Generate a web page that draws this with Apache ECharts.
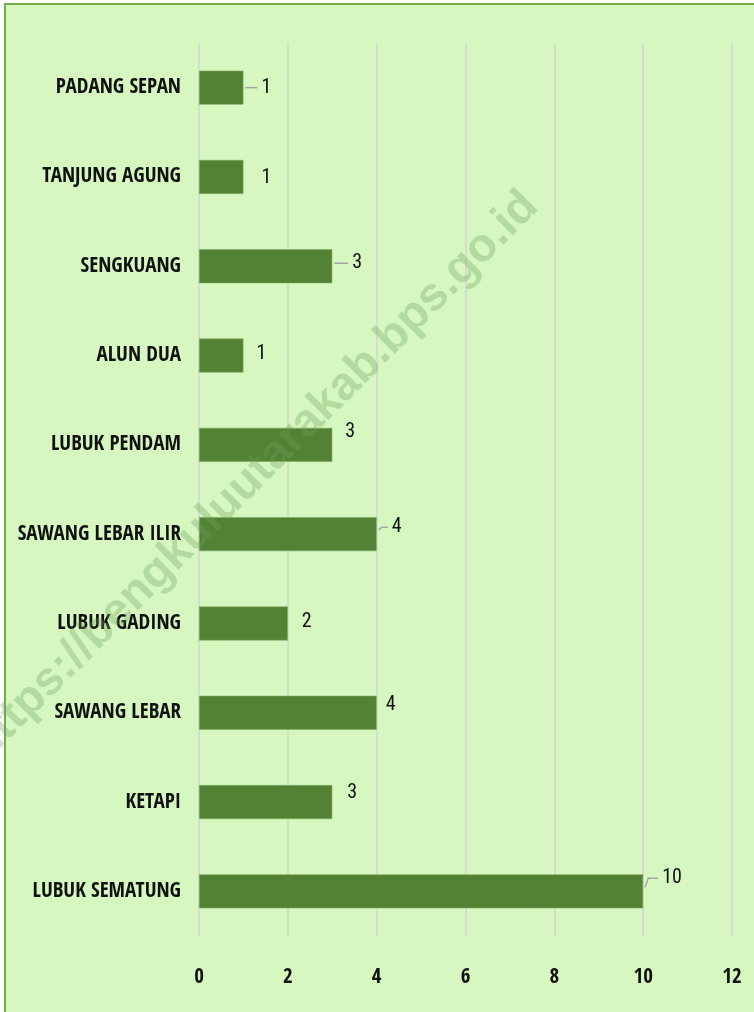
<!DOCTYPE html>
<html>
<head>
<meta charset="utf-8">
<script src="https://cdn.jsdelivr.net/npm/echarts@6/dist/echarts.min.js"></script>
<style>
html,body{margin:0;padding:0;background:#ffffff;}
#chart{width:754px;height:1012px;}
</style>
</head>
<body>
<div id="chart"></div>
<script>
// Data (top to bottom as shown in the reference)
var categories = ["PADANG SEPAN","TANJUNG AGUNG","SENGKUANG","ALUN DUA","LUBUK PENDAM","SAWANG LEBAR ILIR","LUBUK GADING","SAWANG LEBAR","KETAPI","LUBUK SEMATUNG"];
var values = [1,1,3,1,3,4,2,4,3,10];
var xTicks = [0,2,4,6,8,10,12];
var watermark = "https://bengkuluutarakab.bps.go.id";

// label nudges (styling only): [dx, dy, leader line]
var labelNudge = [[13,0,true],[13,1,false],[15,-3,true],[8,-2,false],[8,-13,false],[10,-7,true],[9,-1,false],[4,-8,false],[10,-9,false],[14,-13,true]];

var cats = categories.slice().reverse();
var vals = values.slice().reverse();
var nudges = labelNudge.slice().reverse();

var CAT_FONT = '"Open Sans Condensed","Roboto Condensed",sans-serif';
var NUM_FONT = '"Roboto Condensed","Open Sans Condensed",sans-serif';

function render(){
var chart = echarts.init(document.getElementById('chart'), null, {renderer:'canvas'});
var baseGraphic = [
  {type:'rect', shape:{x:5,y:4,width:800,height:1100}, style:{fill:'#d6f8c0', stroke:'#70ad47', lineWidth:2}, z:-10},
  {type:'text', x:254, y:476, rotation:Math.PI/4, z:5, silent:true,
   style:{text: watermark, font:'bold 47px "Liberation Sans",Arial,sans-serif', fill:'rgba(110,160,90,0.32)', textAlign:'center', textVerticalAlign:'middle'}}
];
var option = {
  backgroundColor: '#ffffff',
  animation: false,
  graphic: baseGraphic,
  grid: {left:199, right:22, top:43, bottom:76, containLabel:false, outerBoundsMode:'none'},
  xAxis: {
    type:'value', min:0, max:12, interval:2,
    axisLine:{show:false}, axisTick:{show:false},
    splitLine:{show:true, lineStyle:{color:'#d4d4d4', width:1.5}},
    axisLabel:{margin:31, color:'#111', fontFamily:CAT_FONT, fontWeight:'bold', fontSize:21,
      formatter:function(v){ return xTicks.indexOf(v)>=0 ? String(v) : ''; }}
  },
  yAxis: {
    type:'category', data:cats,
    axisLine:{show:false}, axisTick:{show:false},
    axisLabel:{margin:18, color:'#111', fontFamily:CAT_FONT, fontWeight:'bold', fontSize:21, verticalAlign:'middle', padding:[0,0,6,0]}
  },
  series: [{
    type:'bar', barWidth:34,
    data: vals.map(function(v,i){
      return {value:v, label:{offset:[nudges[i][0], nudges[i][1]]}};
    }),
    itemStyle:{color:'#548235', borderColor:'#7fa862', borderWidth:0.6},
    label:{show:true, position:'right', distance:5, color:'#111', fontFamily:NUM_FONT, fontSize:20}
  }]
};
chart.setOption(option);

var extra = [];
vals.forEach(function(v,i){
  if(!nudges[i][2]) return;
  var p = chart.convertToPixel({xAxisIndex:0,yAxisIndex:0},[v,cats[i]]);
  var x0 = p[0]+2, x1 = p[0]+nudges[i][0]+1, y1 = p[1]+nudges[i][1];
  extra.push({type:'polyline', z:6, silent:true,
    shape:{points:[[x0,p[1]-Math.min(4,Math.abs(nudges[i][1]))],[x0+3,y1],[x1,y1]]},
    style:{stroke:'#a6a6a6', lineWidth:1.5, fill:null}});
});
chart.setOption({graphic: baseGraphic.concat(extra)});
}
Promise.all([
  document.fonts.load('bold 21px "Open Sans Condensed"'),
  document.fonts.load('20px "Roboto Condensed"')
]).then(render, render);
</script>
</body>
</html>
